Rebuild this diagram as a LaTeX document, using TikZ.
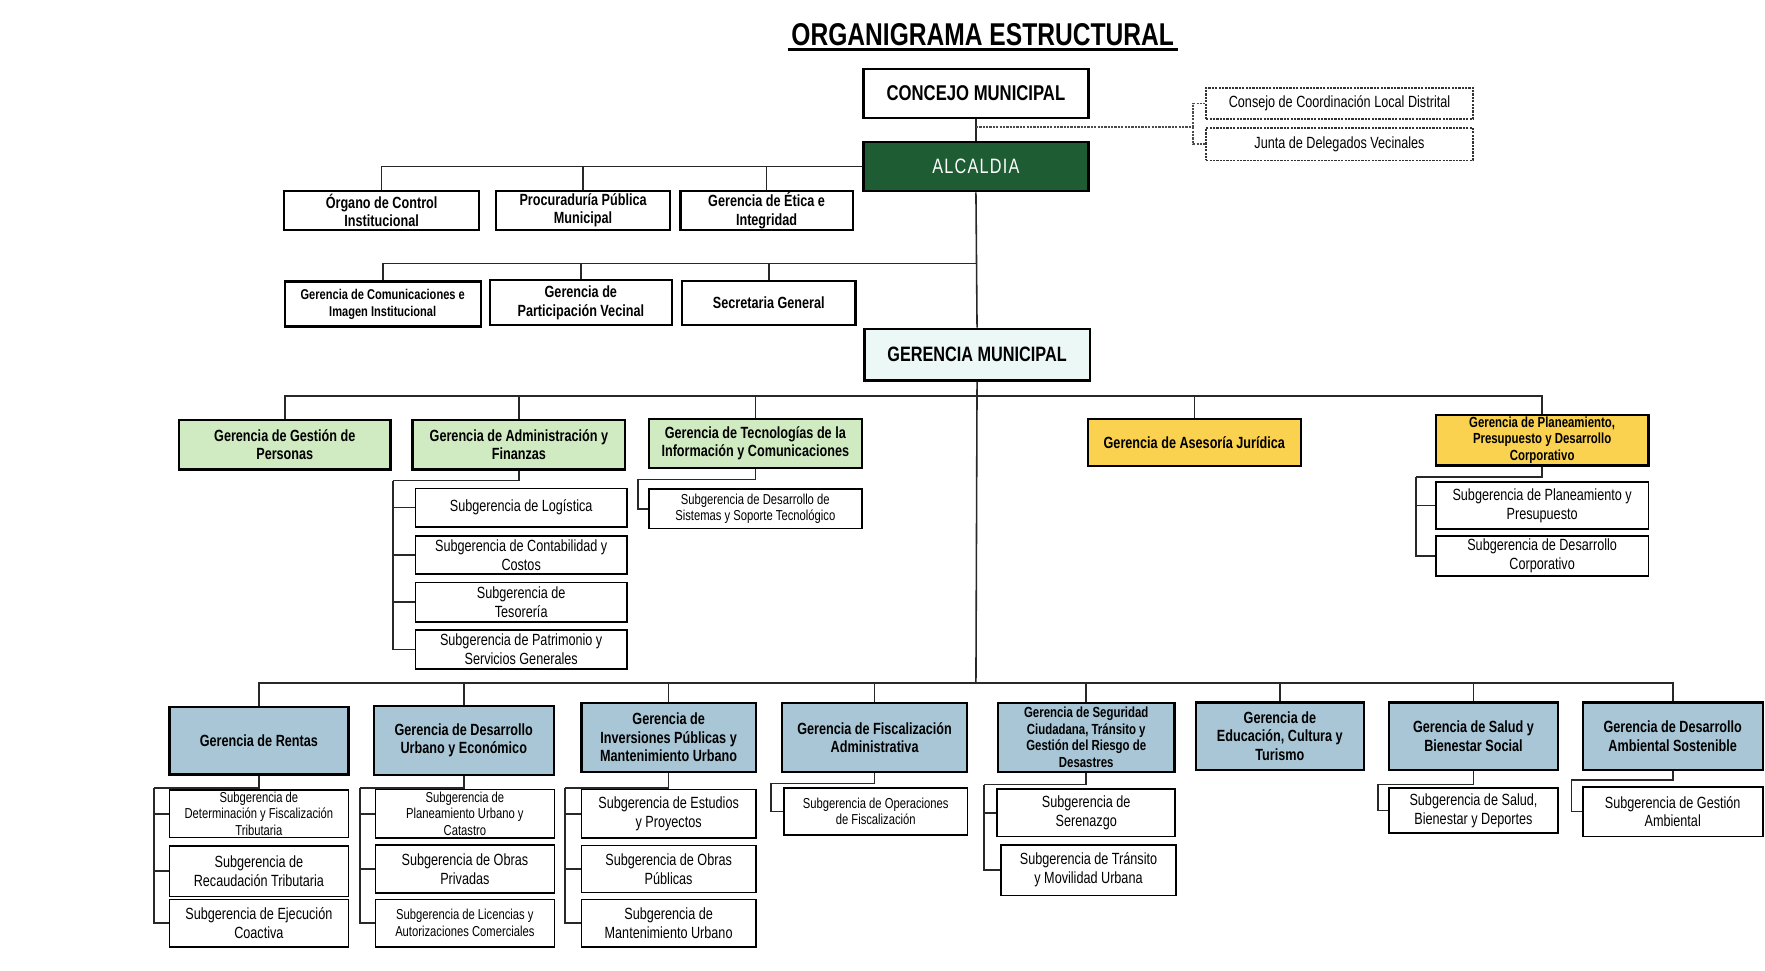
\documentclass[tikz,border=0pt]{standalone}
\usepackage{fontspec}
\setmainfont{Liberation Sans}[FakeStretch=0.78]
\usepackage{xcolor}
\usetikzlibrary{positioning}

\definecolor{alcverde}{RGB}{30,92,52}
\definecolor{gverde}{RGB}{208,234,194}
\definecolor{gamarillo}{RGB}{250,210,80}
\definecolor{gazul}{RGB}{168,198,214}
\definecolor{gcelestre}{RGB}{236,248,246}
\definecolor{linea}{RGB}{40,40,40}

\begin{document}
\begin{tikzpicture}[x=1pt, y=-1pt,
  boxsize/.style 2 args={minimum width=#1, minimum height=#2},
  gbox/.style={draw=black, line width=2pt, inner sep=0pt, align=center,
    font=\bfseries\fontsize{14.4}{16.2}\selectfont},
  sbox/.style={draw=black, line width=1.5pt, fill=white, inner sep=0pt, align=center,
    font=\fontsize{14.4}{16.8}\selectfont},
  dbox/.style={sbox, draw=black!80, dash pattern=on 2pt off 1pt},
  chico/.style={font=\fontsize{12.8}{14.6}\selectfont},
  chicob/.style={font=\bfseries\fontsize{13}{15}\selectfont},
  link/.style={draw=linea, line width=1.4pt},
  dlink/.style={draw=black!70, line width=1.4pt, dash pattern=on 2pt off 1pt}]

  \useasboundingbox (0,0) rectangle (1568,862);

  % Title
  \node (titulo) at (873,31) {\bfseries\fontsize{28}{30}\selectfont ORGANIGRAMA ESTRUCTURAL};
  \draw[line width=2.6pt] ([yshift=-3.5pt]titulo.base west) -- ([yshift=-3.5pt]titulo.base east);

  % Top level
  \node[gbox, boxsize={200}{44}, fill=white, font=\bfseries\fontsize{19}{21}\selectfont] (concejo) at (867,83) {CONCEJO MUNICIPAL};
  \node[gbox, boxsize={200}{44}, fill=alcverde, text=white, font=\fontsize{18.5}{20}\selectfont\addfontfeature{LetterSpace=6}] (alcaldia) at (867,148) {ALCALDIA};
  \node[gbox, boxsize={200}{46}, fill=gcelestre, font=\bfseries\fontsize{18.5}{20}\selectfont] (germun) at (868,315) {GERENCIA MUNICIPAL};

  % Coordination bodies
  \node[dbox, boxsize={237}{28}] (ccld) at (1190,92) {Consejo de Coordinación Local Distrital};
  \node[dbox, boxsize={237}{29}] (jdv) at (1190,128) {Junta de Delegados Vecinales};

  % Alcaldia advisory boxes
  \node[gbox, boxsize={173}{35}, fill=white] (oci) at (339,187) {Órgano de Control\\Institucional};
  \node[gbox, boxsize={155}{35}, fill=white] (ppm) at (518,187) {Procuraduría Pública\\Municipal};
  \node[gbox, boxsize={153}{34}, fill=white] (gei) at (681,187) {Gerencia de Ética e\\Integridad};

  \node[gbox, boxsize={174}{40}, fill=white, font=\bfseries\fontsize{12.6}{15}\selectfont] (gci) at (340,270) {Gerencia de Comunicaciones e\\Imagen Institucional};
  \node[gbox, boxsize={162}{40}, fill=white] (gpv) at (516,269) {Gerencia de\\Participación Vecinal};
  \node[gbox, boxsize={154}{39}, fill=white] (sg) at (683,269) {Secretaria General};

  % Support and advisory gerencias
  \node[gbox, boxsize={188}{44}, fill=gverde] (ggp) at (253,395) {Gerencia de Gestión de\\Personas};
  \node[gbox, boxsize={189}{44}, fill=gverde] (gaf) at (461,395) {Gerencia de Administración y\\Finanzas};
  \node[gbox, boxsize={189}{44}, fill=gverde] (gti) at (671,394) {Gerencia de Tecnologías de la\\Información y Comunicaciones};
  \node[gbox, boxsize={189}{42}, fill=gamarillo] (gaj) at (1061,393) {Gerencia de Asesoría Jurídica};
  \node[gbox, boxsize={189}{45}, fill=gamarillo, chicob] (gpp) at (1370,391) {Gerencia de Planeamiento,\\Presupuesto y Desarrollo\\Corporativo};

  \node[sbox, boxsize={188}{34}] (slog) at (463,451) {Subgerencia de Logística};
  \node[sbox, boxsize={188}{34}] (scc) at (463,493) {Subgerencia de Contabilidad y\\Costos};
  \node[sbox, boxsize={188}{35}] (stes) at (463,535) {Subgerencia de\\Tesorería};
  \node[sbox, boxsize={188}{35}] (spsg) at (463,577) {Subgerencia de Patrimonio y\\Servicios Generales};

  \node[sbox, boxsize={189}{35}, chico] (sdst) at (671,452) {Subgerencia de Desarrollo de\\Sistemas y Soporte Tecnológico};

  \node[sbox, boxsize={189}{42}] (spyp) at (1370,449) {Subgerencia de Planeamiento y\\Presupuesto};
  \node[sbox, boxsize={189}{36}] (sdc) at (1370,494) {Subgerencia de Desarrollo\\Corporativo};

  % Line gerencias
  \node[gbox, boxsize={159}{60}, fill=gazul] (gr) at (230,658) {Gerencia de Rentas};
  \node[gbox, boxsize={160}{61}, fill=gazul] (gdu) at (412,658) {Gerencia de Desarrollo\\Urbano y Económico};
  \node[gbox, boxsize={155}{61}, fill=gazul] (gip) at (594,655) {Gerencia de\\Inversiones Públicas y\\Mantenimiento Urbano};
  \node[gbox, boxsize={164}{61}, fill=gazul] (gfa) at (777,655) {Gerencia de Fiscalización\\Administrativa};
  \node[gbox, boxsize={157}{61}, fill=gazul, chicob] (gsc) at (965,655) {Gerencia de Seguridad\\Ciudadana, Tránsito y\\Gestión del Riesgo de\\Desastres};
  \node[gbox, boxsize={149}{60}, fill=gazul] (gec) at (1137,654) {Gerencia de\\Educación, Cultura y\\Turismo};
  \node[gbox, boxsize={150}{60}, fill=gazul] (gsb) at (1309,654) {Gerencia de Salud y\\Bienestar Social};
  \node[gbox, boxsize={160}{60}, fill=gazul] (gda) at (1486,654) {Gerencia de Desarrollo\\Ambiental Sostenible};

  \node[sbox, boxsize={159}{42}, chico] (sdft) at (230,723) {Subgerencia de\\Determinación y Fiscalización\\Tributaria};
  \node[sbox, boxsize={159}{45}] (srt) at (230,774) {Subgerencia de\\Recaudación Tributaria};
  \node[sbox, boxsize={159}{42}] (sec) at (230,820) {Subgerencia de Ejecución\\Coactiva};

  \node[sbox, boxsize={159}{43}, chico] (spuc) at (413,723) {Subgerencia de\\Planeamiento Urbano y\\Catastro};
  \node[sbox, boxsize={159}{43}] (sop) at (413,772) {Subgerencia de Obras\\Privadas};
  \node[sbox, boxsize={159}{42}, chico] (slac) at (413,820) {Subgerencia de Licencias y\\Autorizaciones Comerciales};

  \node[sbox, boxsize={155}{43}] (sep) at (594,723) {Subgerencia de Estudios\\y Proyectos};
  \node[sbox, boxsize={155}{42}] (sopu) at (594,772) {Subgerencia de Obras\\Públicas};
  \node[sbox, boxsize={155}{42}] (smu) at (594,820) {Subgerencia de\\Mantenimiento Urbano};

  \node[sbox, boxsize={163}{42}, chico] (sof) at (778,721) {Subgerencia de Operaciones\\de Fiscalización};

  \node[sbox, boxsize={158}{42}] (sser) at (965,722) {Subgerencia de\\Serenazgo};
  \node[sbox, boxsize={155}{45}] (stmu) at (967,773) {Subgerencia de Tránsito\\y Movilidad Urbana};

  \node[sbox, boxsize={150}{40}] (ssbd) at (1309,720) {Subgerencia de Salud,\\Bienestar y Deportes};
  \node[sbox, boxsize={160}{44}] (sga) at (1486,721) {Subgerencia de Gestión\\Ambiental};

  % Junctions
  \coordinate (jcons) at (867,113);
  \coordinate (jbrk) at (1060,113);
  \coordinate (jalc) at (867,234);
  \coordinate (jger) at (867,352);
  \coordinate (jlin) at (867,607);
  \coordinate (jgaf) at (349,427);
  \coordinate (jgti) at (567,426);
  \coordinate (jgpp) at (1258,424);
  \coordinate (jgr) at (137,700);
  \coordinate (jgdu) at (320,700);
  \coordinate (jgip) at (502,700);
  \coordinate (jgfa) at (685,696);
  \coordinate (jgsc) at (874,697);
  \coordinate (jgsb) at (1224,697);
  \coordinate (jgda) at (1396,693);

  % Main spine
  \draw[link] (concejo.south) -- (alcaldia.north);
  \draw[link] (alcaldia.south) -- (germun.north);
  \draw[link] (germun.south) -- (jlin);

  % Coordination bodies (dashed)
  \draw[dlink] (jcons) -- (jbrk);
  \draw[dlink] (jbrk) |- (ccld.west);
  \draw[dlink] (jbrk) |- (jdv.west);

  % Alcaldia branches
  \foreach \n in {oci,ppm,gei}
    \draw[link] (alcaldia.west) -| (\n.north);
  \foreach \n in {gci,gpv,sg}
    \draw[link] (jalc) -| (\n.north);

  % Gerencia Municipal branches
  \foreach \n in {ggp,gaf,gti,gaj,gpp}
    \draw[link] (jger) -| (\n.north);
  \foreach \n in {gr,gdu,gip,gfa,gsc,gec,gsb,gda}
    \draw[link] (jlin) -| (\n.north);

  % Subgerencias
  \draw[link] (gaf.south) |- (jgaf);
  \foreach \n in {slog,scc,stes,spsg}
    \draw[link] (jgaf) |- (\n.west);
  \draw[link] (gti.south) |- (jgti) |- (sdst.west);
  \draw[link] (gpp.south) |- (jgpp);
  \foreach \n in {spyp,sdc}
    \draw[link] (jgpp) |- (\n.west);

  \draw[link] (gr.south) |- (jgr);
  \foreach \n in {sdft,srt,sec}
    \draw[link] (jgr) |- (\n.west);
  \draw[link] (gdu.south) |- (jgdu);
  \foreach \n in {spuc,sop,slac}
    \draw[link] (jgdu) |- (\n.west);
  \draw[link] (gip.south) |- (jgip);
  \foreach \n in {sep,sopu,smu}
    \draw[link] (jgip) |- (\n.west);
  \draw[link] (gfa.south) |- (jgfa) |- (sof.west);
  \draw[link] (gsc.south) |- (jgsc);
  \foreach \n in {sser,stmu}
    \draw[link] (jgsc) |- (\n.west);
  \draw[link] (gsb.south) |- (jgsb) |- (ssbd.west);
  \draw[link] (gda.south) |- (jgda) |- (sga.west);
\end{tikzpicture}
\end{document}
